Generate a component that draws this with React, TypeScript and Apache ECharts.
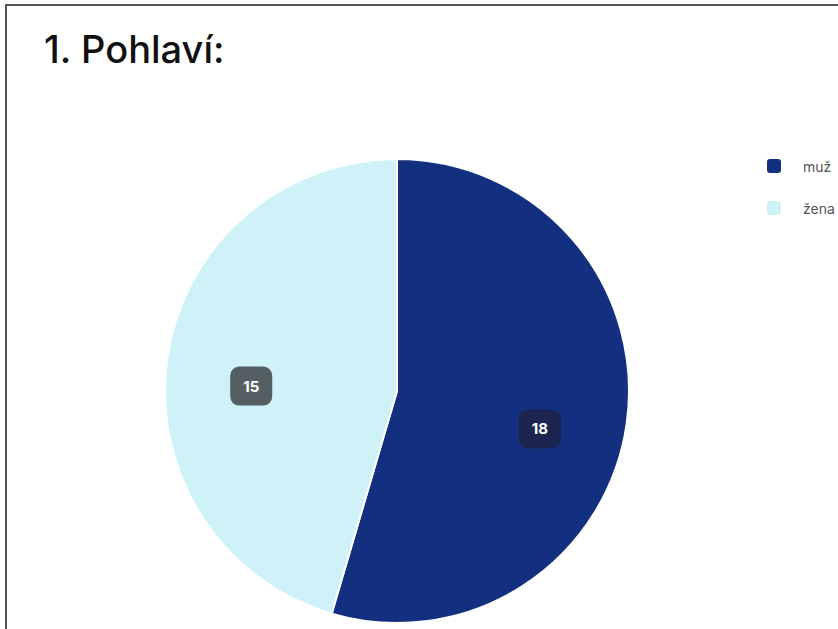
import React, { useEffect, useRef } from "react";
import * as echarts from "echarts";

const titleText = "1. Pohlaví:";
const categories = ["muž", "žena"];
const values = [18, 15];
const sliceColors = ["#12307f", "#cff2f9"];
const badgeColors = ["#1b2550", "#545f64"];
const labelShiftX = [25, -28];
const labelShiftY = [21, 12];

export default function App() {
  const ref = useRef<HTMLDivElement>(null);
  useEffect(() => {
    if (!ref.current) return;
    const chart = echarts.init(ref.current, undefined, { renderer: "svg" });
    chart.setOption({
      animation: false,
      backgroundColor: "#ffffff",
      title: {
        text: titleText,
        left: 39,
        top: 25,
        textStyle: { fontFamily: "Inter", fontSize: 38, fontWeight: 500, color: "#111111" },
      },
      graphic: [
        {
          type: "rect",
          shape: { x: 6, y: 5, width: 900, height: 700 },
          style: { fill: "none", stroke: "#555555", lineWidth: 2 },
          silent: true,
        },
      ],
      legend: {
        orient: "vertical",
        left: 765,
        top: 157,
        padding: 0,
        icon: "roundRect",
        itemWidth: 16,
        itemHeight: 16,
        itemGap: 24,
        data: categories,
        textStyle: { fontFamily: "Inter", fontSize: 14, color: "#555555", padding: [0, 0, 0, 16] },
      },
      series: [
        {
          type: "pie",
          center: [397, 391],
          radius: 232,
          startAngle: 90,
          clockwise: true,
          avoidLabelOverlap: false,
          itemStyle: { borderColor: "#ffffff", borderWidth: 2 },
          label: {
            show: true,
            position: "inside",
            formatter: "{c}",
            fontFamily: "Inter",
            fontSize: 15,
            fontWeight: 700,
            color: "#ffffff",
            borderRadius: 9,
            padding: [12, 13],
          },
          labelLine: { show: false },
          labelLayout: (p: any) => ({ dx: labelShiftX[p.dataIndex], dy: labelShiftY[p.dataIndex] }),
          emphasis: { disabled: true },
          data: categories.map((name, i) => ({
            name,
            value: values[i],
            itemStyle: { color: sliceColors[i] },
            label: { backgroundColor: badgeColors[i] },
          })),
        },
      ],
    });
    return () => chart.dispose();
  }, []);
  return (
    <div
      ref={ref}
      style={{ position: "fixed", left: 0, top: 0, width: 838, height: 629 }}
    />
  );
}
